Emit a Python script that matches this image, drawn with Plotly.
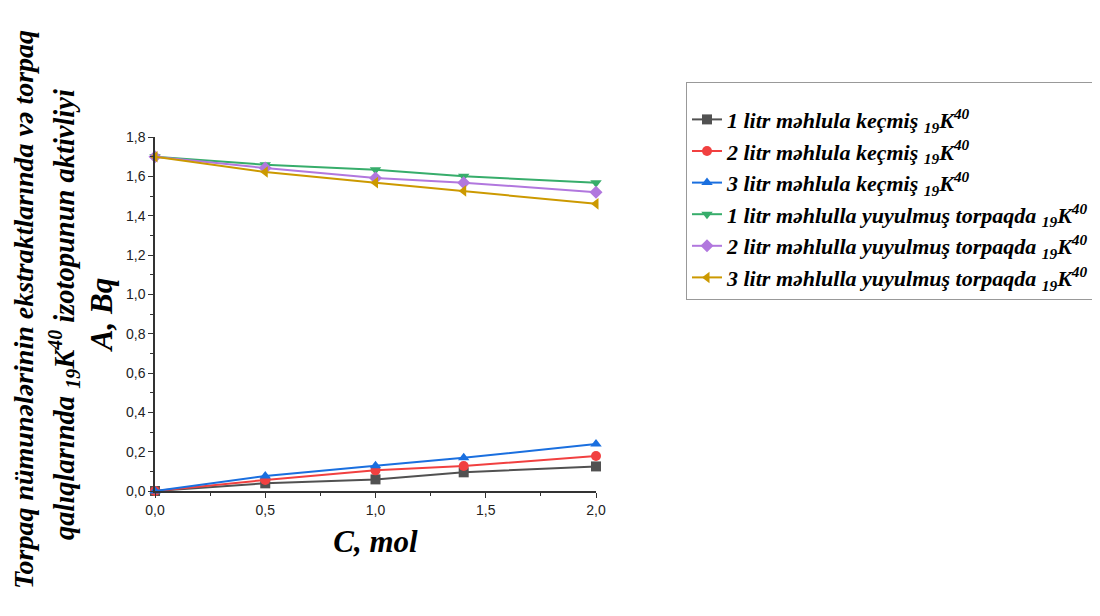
import plotly.graph_objects as go

x_mol = [0.0, 0.5, 1.0, 1.4, 2.0]
names = [
    "1 litr məhlula keçmiş <sub>19</sub>K<sup>40</sup>",
    "2 litr məhlula keçmiş <sub>19</sub>K<sup>40</sup>",
    "3 litr məhlula keçmiş <sub>19</sub>K<sup>40</sup>",
    "1 litr məhlulla yuyulmuş torpaqda <sub>19</sub>K<sup>40</sup>",
    "2 litr məhlulla yuyulmuş torpaqda <sub>19</sub>K<sup>40</sup>",
    "3 litr məhlulla yuyulmuş torpaqda <sub>19</sub>K<sup>40</sup>",
]
s1_extract = [0.0, 0.039, 0.059, 0.095, 0.125]
s2_extract = [0.0, 0.056, 0.105, 0.127, 0.178]
s3_extract = [0.0, 0.076, 0.129, 0.169, 0.239]
s1_soil = [1.70, 1.659, 1.634, 1.600, 1.568]
s2_soil = [1.70, 1.642, 1.592, 1.568, 1.519]
s3_soil = [1.70, 1.622, 1.568, 1.526, 1.460]
series = [s1_extract, s2_extract, s3_extract, s1_soil, s2_soil, s3_soil]

colors = ["#515151", "#F14040", "#1A6FDF", "#37AD6B", "#B177DE", "#CC9900"]
symbols = ["square", "circle", "triangle-up", "triangle-down", "diamond", "triangle-left"]

fig = go.Figure()
for nm, ys, c, sym in zip(names, series, colors, symbols):
    fig.add_trace(go.Scatter(
        x=x_mol, y=ys, name=nm, mode="lines+markers",
        line=dict(color=c, width=2),
        marker=dict(symbol=sym, size=10, color=c),
        cliponaxis=False,
    ))

serif_bi = dict(family="Liberation Serif", weight="bold", style="italic", color="black")

# page body has an 8px margin, so offsets are compensated
OFF = 8
L, R, T, B = 155 - OFF, 596 - OFF, 137 - OFF, 491 - OFF
PW, PH = R - L, B - T

fig.update_layout(
    width=1100, height=616,
    paper_bgcolor="white", plot_bgcolor="white",
    separators=", ",
    margin=dict(l=L, r=1100 - R, t=T, b=616 - B, autoexpand=False),
    showlegend=True,
    legend=dict(
        x=(686 - OFF - L) / PW, y=(B - (82 - OFF)) / PH, xanchor="left", yanchor="top",
        bordercolor="#999999", borderwidth=1,
        font=dict(serif_bi, size=22),
        title=dict(text=" ", font=dict(size=12)),
        tracegroupgap=0,
    ),
    xaxis=dict(
        range=[0, 2.0], tickvals=[0, 0.5, 1.0, 1.5, 2.0],
        ticktext=["0,0", "0,5", "1,0", "1,5", "2,0"],
        showline=True, linecolor="#333333", linewidth=1.5,
        ticks="outside", ticklen=5, tickwidth=1.2, tickcolor="#333333",
        minor=dict(dtick=0.25, ticks="outside", ticklen=3, tickcolor="#333333", showgrid=False),
        showgrid=False, zeroline=False,
        tickfont=dict(family="Liberation Sans", size=14, color="#222222"),
        title=dict(text="C, mol", font=dict(serif_bi, size=31), standoff=14),
    ),
    yaxis=dict(
        range=[0, 1.8], tickvals=[0, 0.2, 0.4, 0.6, 0.8, 1.0, 1.2, 1.4, 1.6, 1.8],
        ticktext=["0,0", "0,2", "0,4", "0,6", "0,8", "1,0", "1,2", "1,4", "1,6", "1,8"],
        showline=True, linecolor="#333333", linewidth=1.5,
        ticks="outside", ticklen=5, tickwidth=1.2, tickcolor="#333333",
        minor=dict(dtick=0.1, ticks="outside", ticklen=3, tickcolor="#333333", showgrid=False),
        showgrid=False, zeroline=False,
        tickfont=dict(family="Liberation Sans", size=14, color="#222222"),
        title=dict(text="A, Bq", font=dict(serif_bi, size=31), standoff=4),
    ),
)

fig.add_annotation(
    text="Torpaq nümunələrinin ekstraktlarında və torpaq",
    xref="paper", yref="paper", x=(23 - OFF - L) / PW, y=(B - (310 - OFF)) / PH,
    xanchor="center", yanchor="middle", textangle=-90, showarrow=False,
    font=dict(serif_bi, size=28),
)
fig.add_annotation(
    text="qalıqlarında <sub>19</sub>K<sup>40</sup> izotopunun aktivliyi",
    xref="paper", yref="paper", x=(64 - OFF - L) / PW, y=(B - (315 - OFF)) / PH,
    xanchor="center", yanchor="middle", textangle=-90, showarrow=False,
    font=dict(serif_bi, size=28.5),
)

fig.write_html("out.html")
